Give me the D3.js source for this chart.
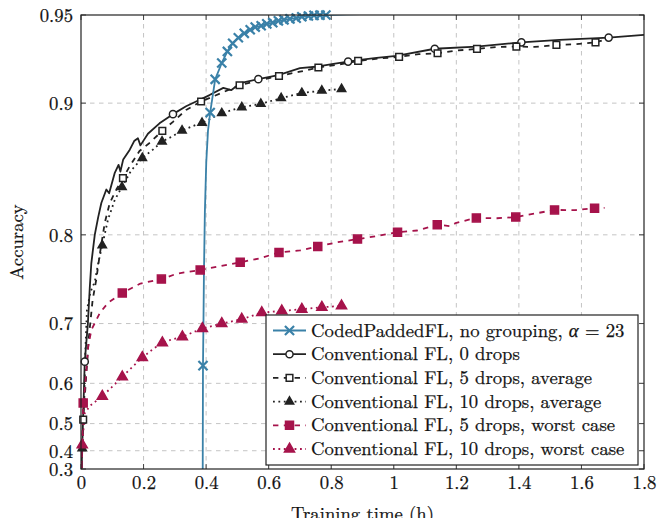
<!DOCTYPE html>
<html>
<head>
<meta charset="utf-8">
<script src="https://cdn.jsdelivr.net/npm/d3@7"></script>
<style>
  body { margin: 0; background: #fff; }
  text { font-family: "Latin Modern Roman", "Liberation Serif", serif; fill: #111; stroke: #111; stroke-width: 0.25px; }
</style>
</head>
<body>
<svg id="chart" width="668" height="518"></svg>
<script>
// tick values and labels
var xTicks = [0, 0.2, 0.4, 0.6, 0.8, 1, 1.2, 1.4, 1.6, 1.8];
var yTicks = [0.3, 0.4, 0.5, 0.6, 0.7, 0.8, 0.9, 0.95];

var seriesNames = [
  "CodedPaddedFL, no grouping, ",
  "Conventional FL, 0 drops",
  "Conventional FL, 5 drops, average",
  "Conventional FL, 10 drops, average",
  "Conventional FL, 5 drops, worst case",
  "Conventional FL, 10 drops, worst case"
];

// [time (h), accuracy, marker?]
var codedFL = [[0.389,0.10,0],[0.390,0.634,1],[0.3915,0.70,0],[0.393,0.76,0],[0.396,0.82,0],[0.4005,0.86,0],
  [0.406,0.882,0],[0.413,0.894,1],[0.429,0.9145,1],[0.450,0.924,1],[0.468,0.9305,1],[0.485,0.935,1],
  [0.503,0.938,1],[0.522,0.9404,1],[0.541,0.9423,1],[0.557,0.9437,1],[0.576,0.9444,1],[0.594,0.9454,1],
  [0.613,0.946,1],[0.631,0.947,1],[0.649,0.9475,1],[0.668,0.948,1],[0.688,0.9484,1],[0.706,0.9491,1],
  [0.727,0.9495,1],[0.745,0.9498,1],[0.764,0.9499,1],[0.783,0.9500,1],[0.85,0.9503,0],[0.93,0.9506,0]];

var zeroDrops = [[0,0.10,0],[0.012,0.641,1],[0.022,0.70,0],[0.028,0.745,0],[0.033,0.772,0],[0.044,0.800,0],
  [0.055,0.816,0],[0.065,0.828,0],[0.081,0.839,0],[0.090,0.836,0],[0.108,0.852,0],[0.120,0.858,0],
  [0.126,0.853,0],[0.135,0.862,0],[0.156,0.869,0],[0.170,0.875,0],[0.182,0.877,0],[0.190,0.872,0],
  [0.214,0.880,0],[0.251,0.887,0],[0.294,0.893,1],[0.336,0.898,0],[0.368,0.901,0],[0.411,0.905,0],
  [0.455,0.9094,0],[0.480,0.9080,0],[0.509,0.9122,0],[0.567,0.9146,1],[0.631,0.917,0],[0.700,0.921,0],
  [0.759,0.922,0],[0.807,0.9235,0],[0.854,0.9248,1],[0.892,0.9258,0],[0.945,0.9269,0],[1.009,0.928,0],
  [1.131,0.932,1],[1.264,0.9332,0],[1.408,0.9355,1],[1.530,0.9369,0],[1.687,0.9381,1],[1.8,0.9396,0]];

var fiveAvg = [[0,0.10,0],[0.007,0.512,1],[0.015,0.60,0],[0.025,0.68,0],[0.037,0.73,0],[0.049,0.755,0],
  [0.060,0.781,0],[0.076,0.811,0],[0.092,0.828,0],[0.113,0.839,0],[0.134,0.848,1],[0.156,0.857,0],
  [0.187,0.868,0],[0.219,0.8737,0],[0.260,0.882,1],[0.294,0.888,0],[0.336,0.8957,0],[0.384,0.901,1],
  [0.445,0.906,0],[0.507,0.911,1],[0.570,0.914,0],[0.633,0.9165,1],[0.70,0.919,0],[0.759,0.9214,1],
  [0.82,0.923,0],[0.886,0.9252,1],[0.95,0.9265,0],[1.017,0.9275,1],[1.08,0.929,0],[1.140,0.9295,1],
  [1.20,0.931,0],[1.266,0.9319,1],[1.33,0.933,0],[1.392,0.9332,1],[1.45,0.933,0],[1.52,0.9341,1],
  [1.58,0.9345,0],[1.645,0.9355,1],[1.665,0.9365,0]];

var tenAvg = [[0,0.10,0],[0.004,0.41,1],[0.010,0.55,0],[0.014,0.66,0],[0.019,0.718,0],[0.030,0.74,0],
  [0.044,0.752,0],[0.055,0.772,0],[0.068,0.79,1],[0.086,0.8135,0],[0.108,0.8306,0],[0.131,0.841,1],
  [0.161,0.854,0],[0.196,0.863,1],[0.230,0.869,0],[0.259,0.8747,1],[0.29,0.878,0],[0.323,0.8822,1],
  [0.355,0.885,0],[0.387,0.8873,1],[0.450,0.8936,1],[0.514,0.8974,1],[0.575,0.8995,1],[0.640,0.9031,1],
  [0.706,0.9063,1],[0.770,0.9077,1],[0.833,0.9087,1]];

var fiveWorst = [[0,0.10,0],[0.007,0.556,1],[0.012,0.586,0],[0.023,0.666,0],[0.033,0.691,0],[0.060,0.714,0],
  [0.086,0.727,0],[0.132,0.739,1],[0.19,0.750,0],[0.257,0.755,1],[0.307,0.761,0],[0.381,0.765,1],
  [0.445,0.769,0],[0.509,0.773,1],[0.57,0.777,0],[0.633,0.783,1],[0.70,0.785,0],[0.757,0.789,1],
  [0.82,0.793,0],[0.884,0.796,1],[0.95,0.799,0],[1.012,0.8025,1],[1.075,0.804,0],[1.139,0.8092,1],
  [1.18,0.808,0],[1.20,0.811,0],[1.264,0.8153,1],[1.33,0.815,0],[1.390,0.816,1],[1.45,0.819,0],
  [1.514,0.8222,1],[1.58,0.822,0],[1.642,0.8236,1],[1.674,0.824,0]];

var tenWorst = [[0,0.10,0],[0.004,0.425,1],[0.012,0.53,0],[0.03,0.55,0],[0.068,0.572,1],[0.10,0.593,0],
  [0.132,0.613,1],[0.165,0.632,0],[0.196,0.648,1],[0.23,0.662,0],[0.260,0.672,1],[0.29,0.677,0],
  [0.324,0.681,1],[0.355,0.687,0],[0.388,0.693,1],[0.450,0.700,1],[0.514,0.706,1],[0.578,0.7146,1],
  [0.642,0.717,1],[0.706,0.719,1],[0.770,0.7216,1],[0.833,0.7233,1]];

var blue = "#3a81a8";
var crimson = "#a6134b";

var series = [
  {data: codedFL,   color: blue,    dash: null,      symbol: d3.symbolTimes,    size: 56, fill: "none"},
  {data: zeroDrops, color: "#222",  dash: null,      symbol: d3.symbolCircle,   size: 40, fill: "#fff"},
  {data: fiveAvg,   color: "#222",  dash: "5.4,5.4", symbol: d3.symbolSquare,   size: 44, fill: "#fff"},
  {data: tenAvg,    color: "#222",  dash: "1.8,3.6", symbol: d3.symbolTriangle, size: 30, fill: "#222"},
  {data: fiveWorst, color: crimson, dash: "5.4,5.4", symbol: d3.symbolSquare,   size: 64, fill: crimson},
  {data: tenWorst,  color: crimson, dash: "1.8,3.6", symbol: d3.symbolTriangle, size: 44, fill: crimson}
];

var svg = d3.select("#chart");
var margin = {top: 15, left: 81, right: 24, bottom: 49};
var width = 668 - margin.left - margin.right;
var height = 518 - margin.top - margin.bottom;

var x = d3.scaleLinear().domain([0, 1.8]).range([0, width]);
// the y axis is stretched towards the top (exp transform of accuracy)
var K = 3.95;
var yBase = d3.scaleLinear().domain([Math.exp(K * 0.3), Math.exp(K * 0.95)]).range([height, 0]);
var y = function(a) { return yBase(Math.exp(K * a)); };

var plot = svg.append("g").attr("transform", "translate(" + margin.left + "," + margin.top + ")");

svg.append("defs").append("clipPath").attr("id", "clip")
  .append("rect").attr("width", width).attr("height", height);

// grid
var grid = plot.append("g");
grid.selectAll("line.gx").data(xTicks.slice(1, -1)).enter().append("line")
  .attr("x1", function(d) { return x(d); }).attr("x2", function(d) { return x(d); })
  .attr("y1", 0).attr("y2", height);
grid.selectAll("line.gy").data(yTicks.slice(1, -1)).enter().append("line")
  .attr("x1", 0).attr("x2", width)
  .attr("y1", function(d) { return y(d); }).attr("y2", function(d) { return y(d); });
grid.selectAll("line").attr("stroke", "#c4c4c4").attr("stroke-width", 1).attr("stroke-dasharray", "4.5,4.5");

// small inner ticks
var ticks = plot.append("g").attr("stroke", "#444").attr("stroke-width", 1);
xTicks.forEach(function(d) {
  ticks.append("line").attr("x1", x(d)).attr("x2", x(d)).attr("y1", height).attr("y2", height - 5);
  ticks.append("line").attr("x1", x(d)).attr("x2", x(d)).attr("y1", 0).attr("y2", 5);
});
yTicks.forEach(function(d) {
  ticks.append("line").attr("x1", 0).attr("x2", 5).attr("y1", y(d)).attr("y2", y(d));
  ticks.append("line").attr("x1", width).attr("x2", width - 5).attr("y1", y(d)).attr("y2", y(d));
});

// tick labels through d3 axes
var xAxis = d3.axisBottom(x).tickValues(xTicks).tickSize(0).tickPadding(7)
  .tickFormat(function(d) { return String(d); });
var xGroup = plot.append("g").attr("transform", "translate(0," + height + ")").call(xAxis);
var yAxis = d3.axisLeft(yBase).tickValues(yTicks.map(function(d) { return Math.exp(K * d); }))
  .tickSize(0).tickPadding(8)
  .tickFormat(function(d) { return String(+(Math.log(d) / K).toFixed(2)); });
var yGroup = plot.append("g").call(yAxis);
[xGroup, yGroup].forEach(function(g) {
  g.select(".domain").remove();
  g.attr("font-family", null).attr("font-size", null);
  g.selectAll("text").attr("font-size", 18.7).attr("fill", "#111");
});
yGroup.selectAll("text").attr("dy", "0.34em");

var line = d3.line().x(function(d) { return x(d[0]); }).y(function(d) { return y(d[1]); });
var lines = plot.append("g").attr("clip-path", "url(#clip)");
var marks = plot.append("g");

// draw black/red first, blue on top
var order = [1, 2, 3, 4, 5, 0];
order.forEach(function(i) {
  var s = series[i];
  lines.append("path").datum(s.data)
    .attr("d", line).attr("fill", "none")
    .attr("stroke", s.color).attr("stroke-width", 1.8)
    .attr("stroke-dasharray", s.dash)
    .attr("stroke-linejoin", "round");
  var pts = s.data.filter(function(d) { return d[2] && d[1] >= 0.3 && d[1] <= 0.951; });
  marks.selectAll(null).data(pts).enter().append("path")
    .attr("transform", function(d) { return "translate(" + x(d[0]) + "," + y(d[1]) + ")"; })
    .attr("d", d3.symbol().type(s.symbol).size(s.size))
    .attr("fill", s.fill).attr("stroke", s.color)
    .attr("stroke-width", s.symbol === d3.symbolTimes ? 2.2 : 1.5);
});

// frame
plot.append("rect").attr("width", width).attr("height", height)
  .attr("fill", "none").attr("stroke", "#222").attr("stroke-width", 1.2);

// legend
var legend = plot.append("g").attr("transform", "translate(" + (266 - margin.left) + "," + (315 - margin.top) + ")");
legend.append("rect").attr("width", 372).attr("height", 150)
  .attr("fill", "#fff").attr("stroke", "#222").attr("stroke-width", 1.2);
series.forEach(function(s, i) {
  var row = legend.append("g").attr("transform", "translate(0," + (15.5 + i * 23.7) + ")");
  row.append("line").attr("x1", 7).attr("x2", 40).attr("y1", 0).attr("y2", 0)
    .attr("stroke", s.color).attr("stroke-width", 1.8).attr("stroke-dasharray", s.dash);
  row.append("path").attr("transform", "translate(23.5,0)")
    .attr("d", d3.symbol().type(s.symbol).size(s.size))
    .attr("fill", s.fill).attr("stroke", s.color)
    .attr("stroke-width", s.symbol === d3.symbolTimes ? 2.2 : 1.5);
  var t = row.append("text").attr("x", 45).attr("y", 6).attr("font-size", 18.7).text(seriesNames[i]);
  if (i === 0) {
    t.append("tspan").attr("font-style", "italic").attr("font-family", "Liberation Serif").text("α");
    t.append("tspan").text(" = 23");
  }
});

// axis titles
svg.append("text").attr("x", margin.left + width / 2).attr("y", 520)
  .attr("text-anchor", "middle").attr("font-size", 18.7).text("Training time (h)");
svg.append("text").attr("transform", "translate(23," + (margin.top + 227) + ") rotate(-90)")
  .attr("text-anchor", "middle").attr("font-size", 18.7).text("Accuracy");
</script>
</body>
</html>
